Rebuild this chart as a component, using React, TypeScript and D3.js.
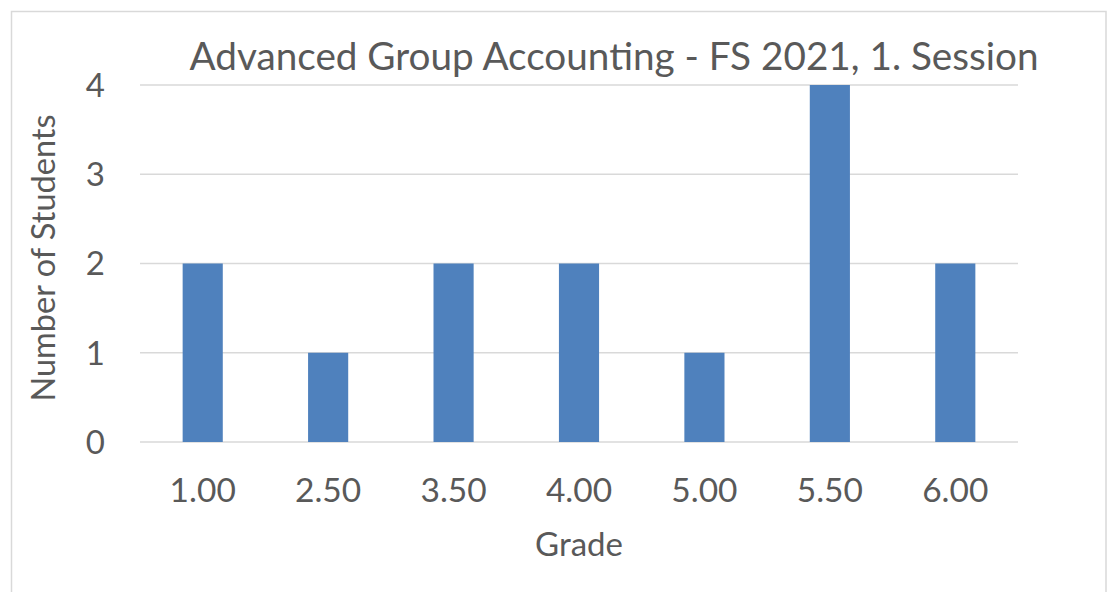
import React from "react";
import * as d3 from "d3";

const categories = ["1.00", "2.50", "3.50", "4.00", "5.00", "5.50", "6.00"];
const counts = [2, 1, 2, 2, 1, 4, 2];
const yTicks = [0, 1, 2, 3, 4];
const title = "Advanced Group Accounting - FS 2021, 1. Session";

export default function App() {
  const W = 1107, H = 592;
  const left = 140, right = 1018, top = 85, bottom = 442;
  const x = d3.scaleBand<string>().domain(categories).range([left, right]).paddingInner(0.68).paddingOuter(0.34);
  const y = d3.scaleLinear().domain([0, 4]).range([bottom, top]);
  const font = "Lato, 'Noto Sans', sans-serif";
  const tc = "#595959";
  return (
    <svg width={W} height={H} style={{ position: "absolute", left: 0, top: 0 }} fontFamily={font}>
      <rect x={0} y={0} width={W} height={H} fill="#fff" />
      <rect x={11.5} y={11.5} width={1094.5} height={H} fill="none" stroke="#d9d9d9" strokeWidth={1.5} />
      {yTicks.map((t) => (
        <g key={t}>
          <line x1={left} x2={right} y1={y(t)} y2={y(t)} stroke="#d9d9d9" strokeWidth={1.5} />
          <text x={105} y={y(t)} dy="0.36em" textAnchor="end" fontSize={33} fill={tc}>{t}</text>
        </g>
      ))}
      {categories.map((c, i) => (
        <rect key={c} x={x(c)} y={y(counts[i])} width={x.bandwidth()} height={bottom - y(counts[i])} fill="#4f81bd" />
      ))}
      {categories.map((c) => (
        <text key={c} x={(x(c) as number) + x.bandwidth() / 2} y={502} textAnchor="middle" fontSize={33.5} fill={tc}>{c}</text>
      ))}
      <text x={614} y={70} textAnchor="middle" fontSize={38.7} fill={tc}>{title}</text>
      <text x={579} y={556} textAnchor="middle" fontSize={33} fill={tc}>Grade</text>
      <text transform="translate(55,258) rotate(-90)" textAnchor="middle" fontSize={32.5} fill={tc}>Number of Students</text>
    </svg>
  );
}
